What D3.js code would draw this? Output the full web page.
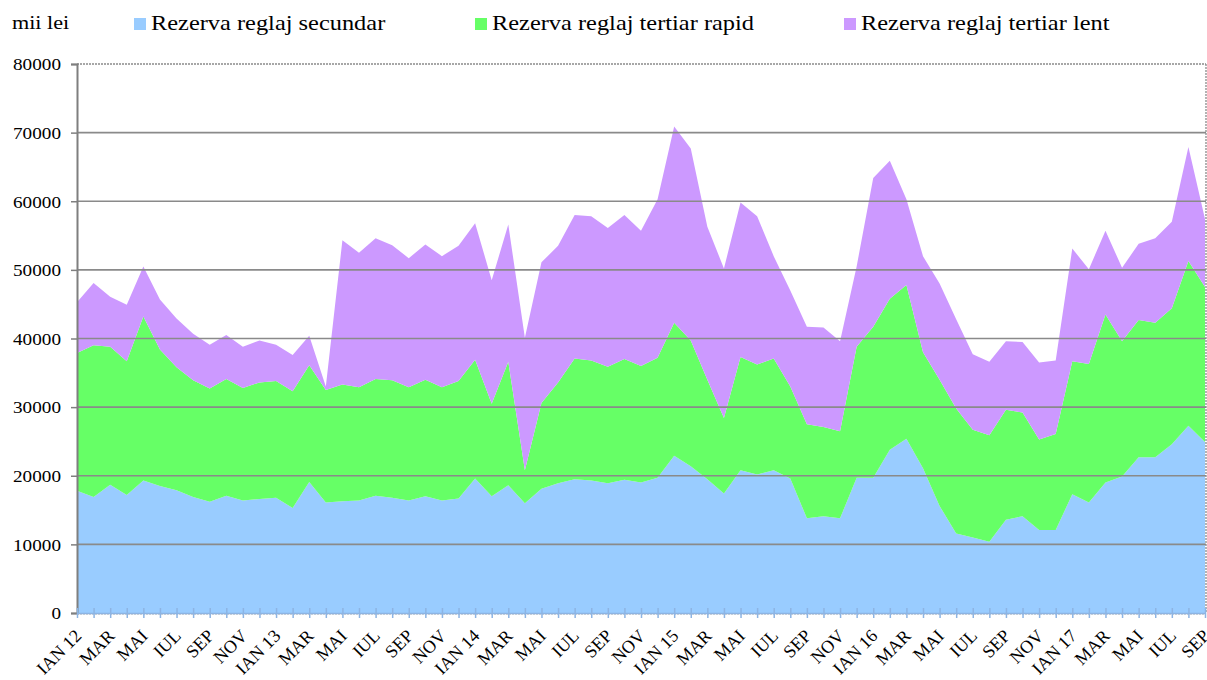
<!DOCTYPE html>
<html>
<head>
<meta charset="utf-8">
<script src="https://cdn.jsdelivr.net/npm/d3@7/dist/d3.min.js"></script>
<style>
  html, body { margin: 0; padding: 0; background: #fff; }
  svg { display: block; }
</style>
</head>
<body>
<svg id="chart" width="1207" height="680"></svg>
<script>
// Monthly reserve values, Jan 2012 - Sep 2017 (mii lei)
const monthNames = ["IAN", "FEB", "MAR", "APR", "MAI", "IUN", "IUL", "AUG", "SEP", "OCT", "NOV", "DEC"];
const years = [12, 13, 14, 15, 16, 17];

const secundar = [
  17800, 16900, 18700, 17200, 19300, 18500, 17900, 16900, 16200, 17100, 16400, 16600,
  16800, 15300, 19100, 16100, 16300, 16400, 17100, 16800, 16400, 17000, 16400, 16700,
  19600, 17000, 18600, 16000, 18100, 18900, 19500, 19300, 18900, 19400, 19000, 19700,
  22900, 21400, 19500, 17400, 20800, 20200, 20800, 19600, 13800, 14100, 13800, 19700,
  19700, 23800, 25400, 21100, 15600, 11600, 11000, 10400, 13600, 14100, 12100, 12100,
  17300, 16100, 19000, 19900, 22700, 22700, 24600, 27300, 24900
];
const tertiarRapid = [
  20100, 22100, 20100, 19500, 23900, 19900, 17900, 17000, 16500, 17000, 16400, 17000,
  17000, 17000, 17000, 16400, 17000, 16500, 17000, 17100, 16500, 17000, 16500, 17100,
  17300, 13500, 18000, 4800, 12500, 14700, 17600, 17500, 17000, 17600, 17000, 17500,
  19400, 18300, 14500, 11000, 16500, 16000, 16300, 13400, 13700, 13000, 12700, 19100,
  22000, 22000, 22400, 16900, 18400, 18200, 15700, 15500, 16000, 15100, 13200, 14000,
  19400, 20200, 24500, 19700, 20000, 19600, 19800, 24000, 22600
];
const tertiarLent = [
  7400, 9100, 7300, 8200, 7300, 7300, 7100, 6800, 6400, 6400, 6000, 6100,
  5300, 5300, 4300, 500, 21000, 19600, 20500, 19700, 18800, 19700, 19100, 19700,
  19900, 18000, 20000, 19300, 20500, 19900, 20900, 21000, 20200, 21000, 19700, 23100,
  28600, 28000, 22300, 21800, 22500, 21600, 14900, 14000, 14200, 14500, 13100, 11700,
  21700, 20100, 12500, 14000, 14000, 13000, 11000, 10700, 10000, 10300, 11200, 10700,
  16400, 13800, 12200, 10700, 11100, 12300, 12600, 16600, 9900
];

const seriesNames = ["Rezerva reglaj secundar", "Rezerva reglaj tertiar rapid", "Rezerva reglaj tertiar lent"];
const seriesColors = ["#99ccff", "#66ff66", "#cc99ff"];
const yTicks = [0, 10000, 20000, 30000, 40000, 50000, 60000, 70000, 80000];

// month labels: "IAN yy" in January, otherwise the month abbreviation
const months = secundar.map((_, i) => {
  const m = i % 12, yr = years[Math.floor(i / 12)];
  return m === 0 ? `IAN ${yr}` : monthNames[m];
});

const rows = months.map((m, i) => ({
  month: m,
  s0: secundar[i],
  s1: tertiarRapid[i],
  s2: tertiarLent[i]
}));

const FONT = "'Liberation Serif', 'Times New Roman', serif";
const svg = d3.select("#chart");
const plotLeft = 77, plotRight = 1205, plotTop = 64, plotBottom = 613;

const x = d3.scalePoint().domain(months.map((m, i) => i)).range([plotLeft, plotRight]);
const y = d3.scaleLinear().domain([0, 80000]).range([plotBottom, plotTop]);

const layers = d3.stack().keys(["s0", "s1", "s2"])(rows);

// stacked areas
const area = d3.area()
  .x((d, i) => x(i))
  .y0(d => y(d[0]))
  .y1(d => y(d[1]));

svg.append("g").selectAll("path")
  .data(layers)
  .join("path")
  .attr("d", area)
  .attr("fill", (d, i) => seriesColors[i]);

// horizontal gridlines
svg.append("g").selectAll("line")
  .data(yTicks.filter(t => t > 0 && t < 80000))
  .join("line")
  .attr("x1", plotLeft).attr("x2", plotRight + 1)
  .attr("y1", d => y(d)).attr("y2", d => y(d))
  .attr("stroke", "#8a8a8a")
  .attr("stroke-width", 1.6);

// dotted plot frame
const frame = svg.append("g")
  .attr("stroke", "#8a8a8a")
  .attr("stroke-width", 1.3)
  .attr("stroke-dasharray", "2,1")
  .attr("fill", "none");
frame.append("line").attr("x1", plotLeft).attr("x2", plotRight + 1).attr("y1", y(80000)).attr("y2", y(80000));
frame.append("line").attr("x1", plotRight + 1).attr("x2", plotRight + 1).attr("y1", y(80000)).attr("y2", plotBottom);
frame.append("line").attr("x1", plotLeft).attr("x2", plotRight + 1).attr("y1", plotBottom + 1).attr("y2", plotBottom + 1)
  .attr("stroke", "#c8c8c8");

// y axis
const yAxis = d3.axisLeft(y)
  .tickValues(yTicks)
  .tickSize(6)
  .tickPadding(0)
  .tickFormat(d3.format("d"));

const gy = svg.append("g")
  .attr("transform", `translate(${plotLeft},0)`)
  .call(yAxis);
gy.select(".domain").attr("stroke", "#7f7f7f").attr("stroke-width", 2);
gy.selectAll(".tick line").attr("stroke", "#7f7f7f").attr("stroke-width", 1.5);
gy.selectAll(".tick text")
  .attr("x", 0)
  .attr("dy", "0.34em")
  .attr("transform", "translate(-16,0) scale(1.13,1)")
  .style("font-family", FONT)
  .style("font-size", "17px")
  .attr("fill", "#000");

// x axis with a tick at every month, label every second month
const xAxis = d3.axisBottom(x)
  .tickSizeInner(5)
  .tickSizeOuter(0)
  .tickFormat(i => (i % 2 === 0 ? months[i] : ""));

const gx = svg.append("g")
  .attr("transform", `translate(0,${plotBottom})`)
  .call(xAxis);
gx.select(".domain").attr("stroke", "#8db4e3").attr("stroke-width", 1.5);
gx.selectAll(".tick line")
  .attr("y1", -5)
  .attr("y2", 5)
  .attr("stroke", "#8db4e3")
  .attr("stroke-width", 1.5);
gx.selectAll(".tick text")
  .style("font-family", FONT)
  .style("font-size", "18px")
  .attr("fill", "#000")
  .attr("text-anchor", "end")
  .attr("dy", null)
  .attr("y", 0)
  .attr("transform", "translate(5,24) rotate(-45)");

// legend
svg.append("text")
  .attr("transform", "translate(12,29) scale(1.23,1)")
  .style("font-family", FONT)
  .style("font-size", "18px")
  .text("mii lei");

const legendX = [134, 475, 844];
const lg = svg.append("g").selectAll("g")
  .data(seriesNames)
  .join("g")
  .attr("transform", (d, i) => `translate(${legendX[i]},0)`);
lg.append("rect")
  .attr("x", 0).attr("y", 18)
  .attr("width", 12).attr("height", 12)
  .attr("fill", (d, i) => seriesColors[i]);
lg.append("text")
  .attr("transform", "translate(17,30) scale(1.22,1)")
  .style("font-family", FONT)
  .style("font-size", "20px")
  .text(d => d);
</script>
</body>
</html>
